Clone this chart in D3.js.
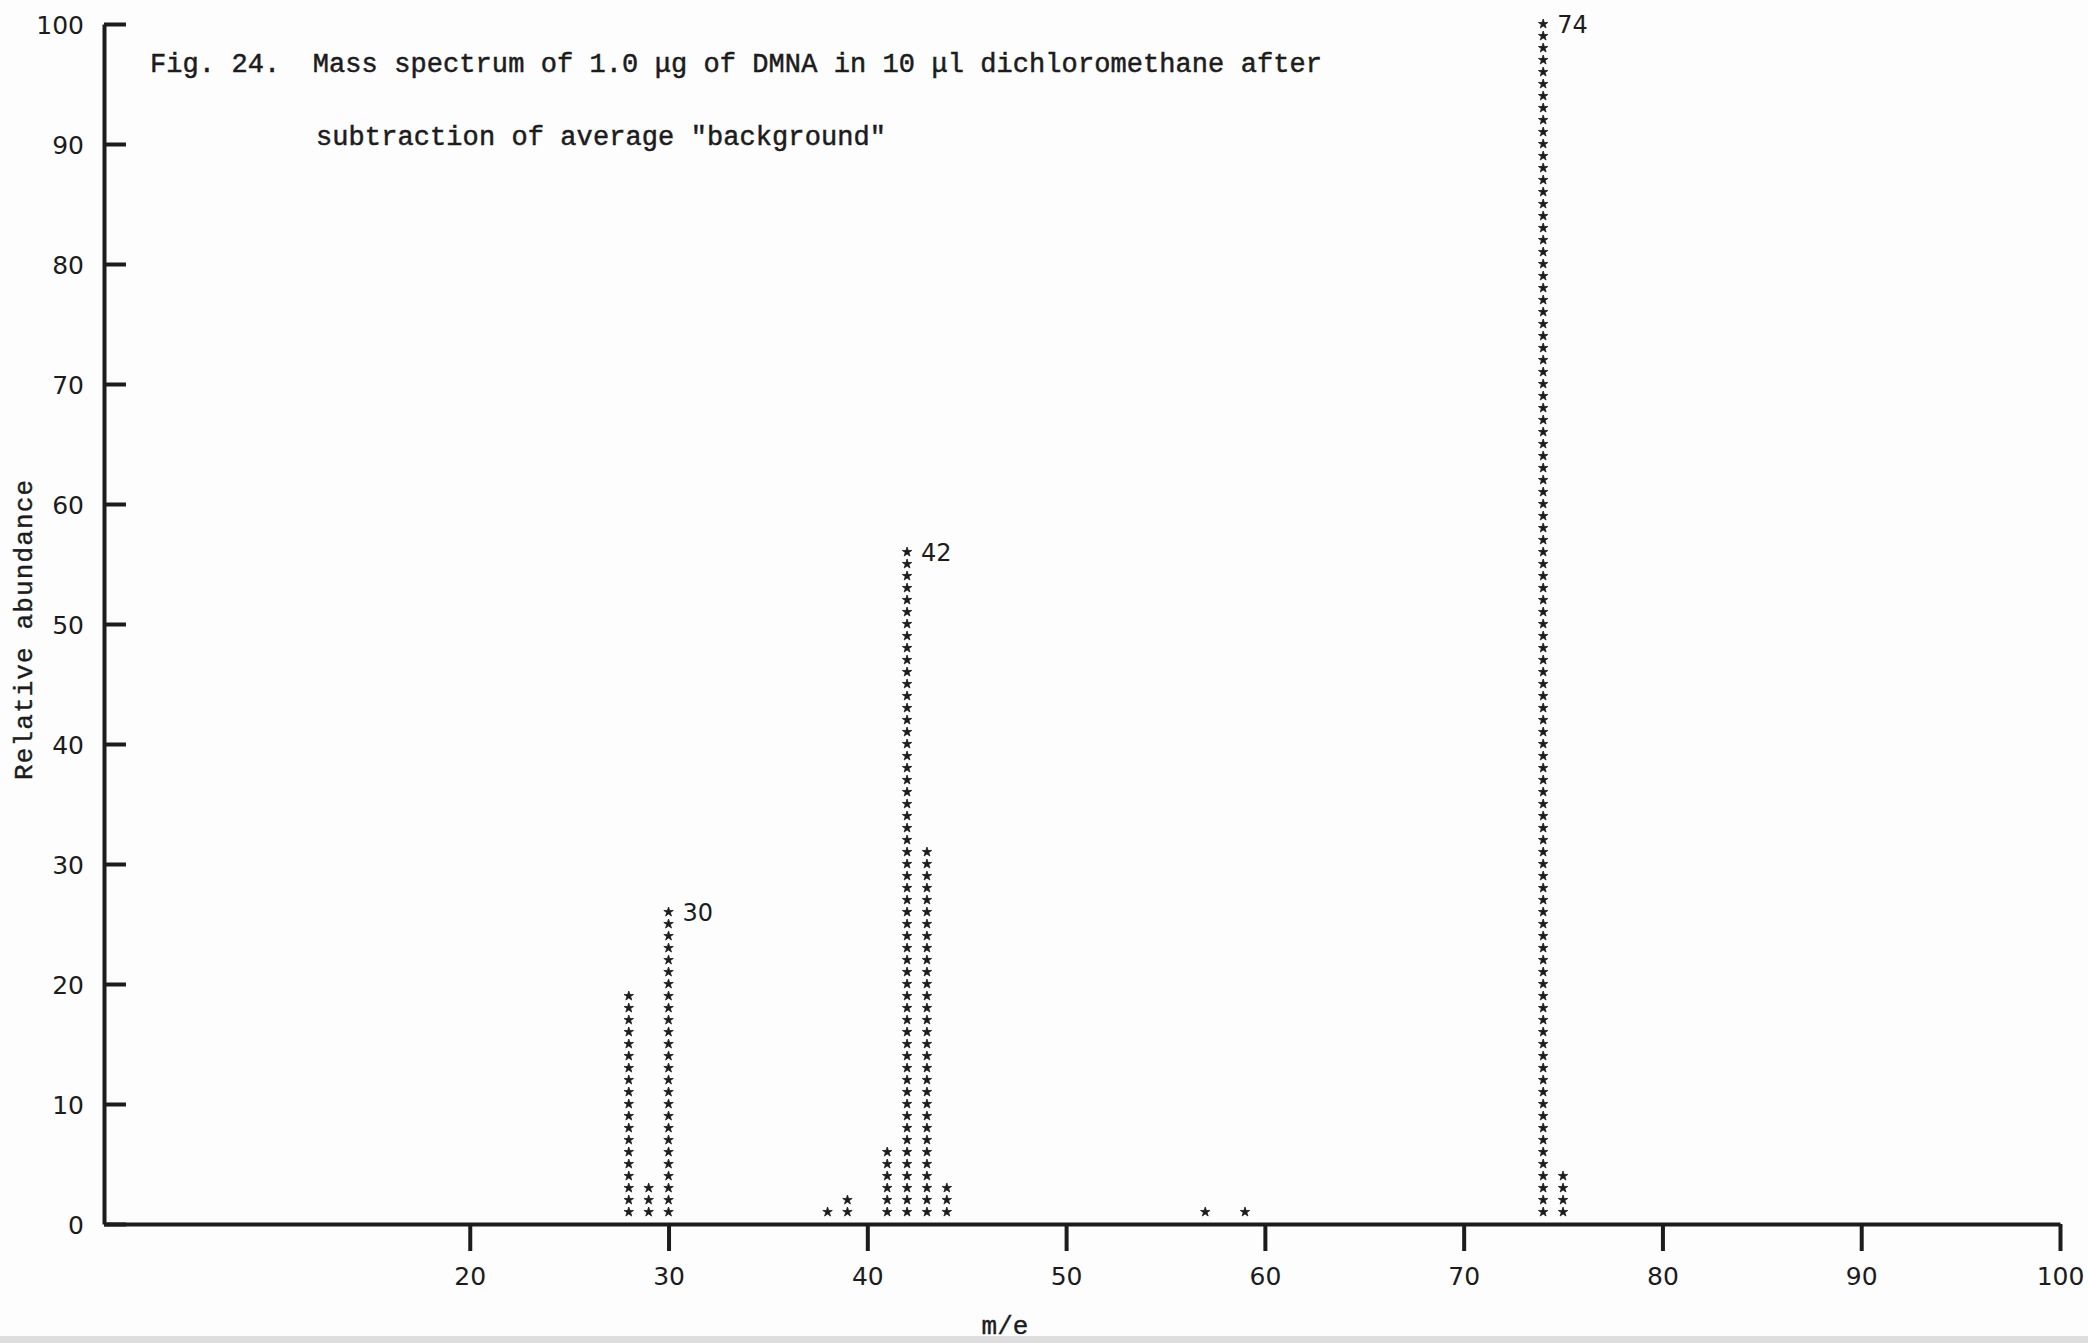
<!DOCTYPE html>
<html>
<head>
<meta charset="utf-8">
<script src="https://cdn.jsdelivr.net/npm/d3@7"></script>
<style>
  body { margin: 0; background: #fdfdfd; }
  svg { display: block; }
  text { white-space: pre; }
</style>
</head>
<body>
<svg id="chart"></svg>
<script>
// data: m/e and relative abundance (one dot = 1 %)
var massToCharge = [28, 29, 30, 38, 39, 41, 42, 43, 44, 57, 59, 74, 75];
var abundance    = [19,  3, 26,  1,  2,  6, 56, 31,  3,  1,  1, 100, 4];
var labelledPeaks = [30, 42, 74];

var xTicks = [20, 30, 40, 50, 60, 70, 80, 90, 100];
var yTicks = [0, 10, 20, 30, 40, 50, 60, 70, 80, 90, 100];

var titleLines = [
  "Fig. 24.  Mass spectrum of 1.0 \u03bcg of DMNA in 10 \u03bcl dichloromethane after",
  "subtraction of average \"background\""
];

var size = { width: 2088, height: 1343 };

var typeFont = "'Liberation Mono', 'DejaVu Sans Mono', monospace";
var numFont = "'DejaVu Sans', 'Noto Sans', sans-serif";
var ink = "#1c1c1c";

var svg = d3.select("#chart")
  .attr("width", size.width)
  .attr("height", size.height);

// x starts a little above zero where it meets the y axis
var x = d3.scaleLinear()
  .domain([1.6, 100])
  .range([104, 2060]);

var y = d3.scaleLinear()
  .domain([0, 100])
  .range([1224, 24]);

// scanner edge at the bottom
svg.append("rect")
  .attr("x", 0).attr("y", size.height - 7)
  .attr("width", size.width).attr("height", 7)
  .attr("fill", "#dedede");

// axes
var xAxis = d3.axisBottom(x)
  .tickValues(xTicks)
  .tickSize(27)
  .tickSizeOuter(0)
  .tickPadding(16);

var yAxis = d3.axisLeft(y)
  .tickValues(yTicks)
  .tickSize(-22)
  .tickSizeOuter(0)
  .tickPadding(20);

var gx = svg.append("g")
  .attr("transform", "translate(0," + y(0) + ")")
  .call(xAxis);

var gy = svg.append("g")
  .attr("transform", "translate(" + x(1.6) + ",0)")
  .call(yAxis);

[gx, gy].forEach(function(g){
  g.select(".domain").attr("stroke", ink).attr("stroke-width", 4);
  g.selectAll(".tick line").attr("stroke", ink).attr("stroke-width", 4);
  g.selectAll(".tick text")
    .attr("fill", ink)
    .style("font-family", numFont)
    .style("font-size", "25px");
});
gy.selectAll(".tick text").attr("dy", "0.36em");

// spectrum: a column of dots per m/e, one dot per percent
var peaks = massToCharge.map(function(m, i){ return { mz: m, value: abundance[i] }; });

var dots = [];
peaks.forEach(function(p){
  d3.range(1, p.value + 1).forEach(function(k){
    dots.push({ mz: p.mz, level: k });
  });
});

var star = d3.symbol().type(d3.symbolStar).size(28);

svg.append("g")
  .selectAll("path")
  .data(dots)
  .enter()
  .append("path")
    .attr("d", star)
    .attr("transform", function(d){ return "translate(" + x(d.mz) + "," + y(d.level) + ")"; })
    .attr("fill", ink)
    .attr("stroke", ink)
    .attr("stroke-width", 0.8);

// peak labels
svg.append("g")
  .selectAll("text")
  .data(peaks.filter(function(p){ return labelledPeaks.indexOf(p.mz) >= 0; }))
  .enter()
  .append("text")
    .attr("x", function(d){ return x(d.mz) + 14; })
    .attr("y", function(d){ return y(d.value); })
    .attr("dy", "0.36em")
    .attr("fill", ink)
    .style("font-family", numFont)
    .style("font-size", "24px")
    .text(function(d){ return d.mz; });

// title, typed
var title = svg.append("g")
  .style("font-family", typeFont)
  .style("font-size", "27px")
  .attr("fill", ink)
  .attr("stroke", ink)
  .attr("stroke-width", 0.5);

title.append("text")
  .attr("x", 150).attr("y", 72)
  .attr("textLength", 1172)
  .attr("lengthAdjust", "spacing")
  .text(titleLines[0]);

title.append("text")
  .attr("x", 316).attr("y", 145)
  .attr("textLength", 570)
  .attr("lengthAdjust", "spacing")
  .text(titleLines[1]);

// axis titles
svg.append("text")
  .attr("transform", "translate(32,630) rotate(-90)")
  .attr("text-anchor", "middle")
  .attr("fill", ink)
  .attr("stroke", ink)
  .attr("stroke-width", 0.4)
  .style("font-family", typeFont)
  .style("font-size", "26px")
  .attr("textLength", 300)
  .text("Relative abundance");

svg.append("text")
  .attr("x", 1005).attr("y", 1334)
  .attr("text-anchor", "middle")
  .attr("fill", ink)
  .attr("stroke", ink)
  .attr("stroke-width", 0.4)
  .style("font-family", typeFont)
  .style("font-size", "26px")
  .text("m/e");
</script>
</body>
</html>
